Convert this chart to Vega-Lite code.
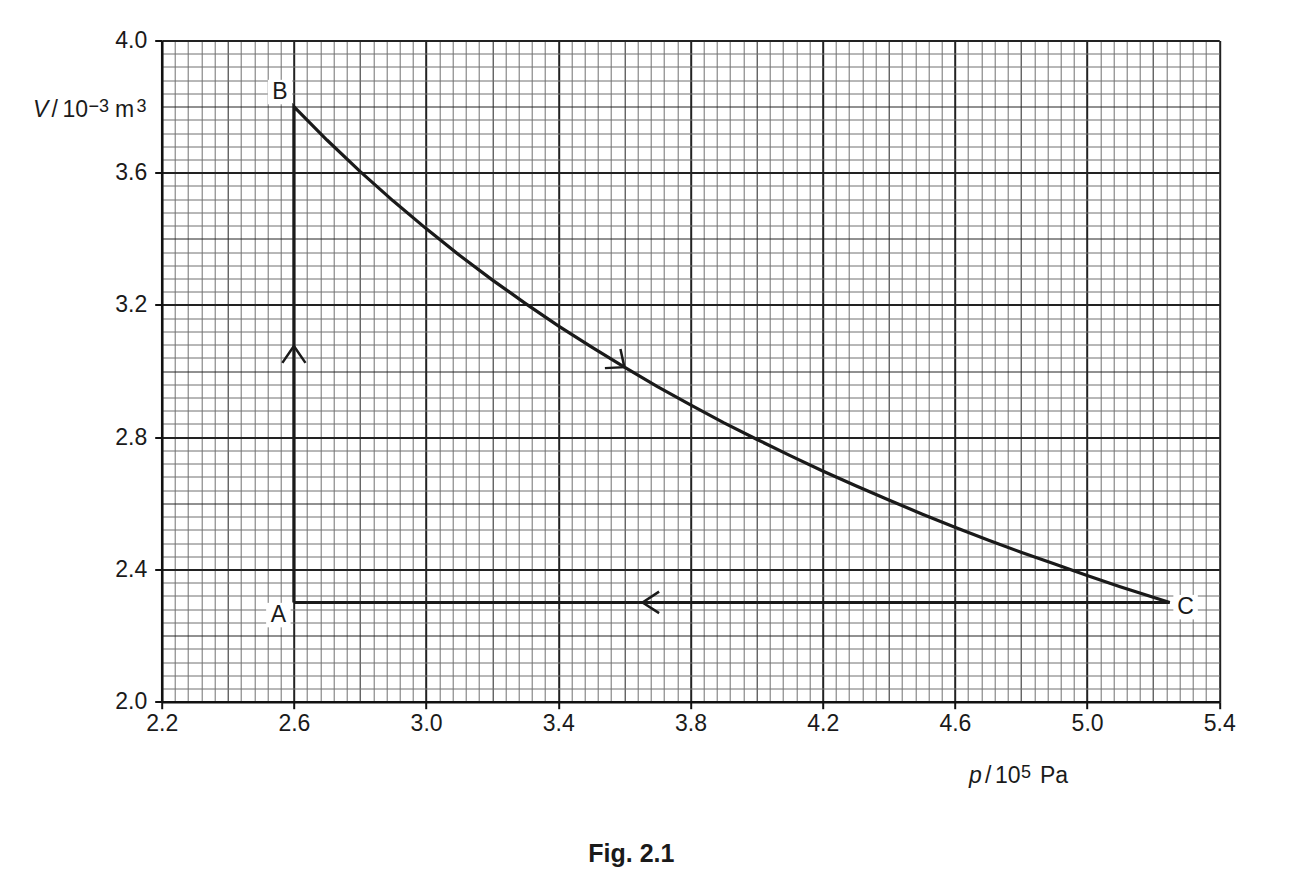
{
  "$schema": "https://vega.github.io/schema/vega-lite/v6.json",
  "width": 1057.6,
  "height": 661.2,
  "autosize": {"type": "none"},
  "padding": {"left": 161.7, "top": 40.5, "right": 76.7, "bottom": 178.3},
  "background": "white",
  "config": {"view": {"stroke": null}},
  "datasets": {
    "cycle": [
      {"o": 0, "p": 2.6, "V": 2.3},
      {"o": 1, "p": 2.6, "V": 3.8},
      {"o": 2, "p": 2.7, "V": 3.699},
      {"o": 3, "p": 2.8, "V": 3.604},
      {"o": 4, "p": 2.9, "V": 3.515},
      {"o": 5, "p": 3.0, "V": 3.431},
      {"o": 6, "p": 3.1, "V": 3.351},
      {"o": 7, "p": 3.2, "V": 3.276},
      {"o": 8, "p": 3.3, "V": 3.205},
      {"o": 9, "p": 3.4, "V": 3.137},
      {"o": 10, "p": 3.5, "V": 3.073},
      {"o": 11, "p": 3.6, "V": 3.012},
      {"o": 12, "p": 3.7, "V": 2.953},
      {"o": 13, "p": 3.8, "V": 2.898},
      {"o": 14, "p": 3.9, "V": 2.844},
      {"o": 15, "p": 4.0, "V": 2.794},
      {"o": 16, "p": 4.1, "V": 2.745},
      {"o": 17, "p": 4.2, "V": 2.698},
      {"o": 18, "p": 4.3, "V": 2.653},
      {"o": 19, "p": 4.4, "V": 2.61},
      {"o": 20, "p": 4.5, "V": 2.568},
      {"o": 21, "p": 4.6, "V": 2.528},
      {"o": 22, "p": 4.7, "V": 2.489},
      {"o": 23, "p": 4.8, "V": 2.452},
      {"o": 24, "p": 4.9, "V": 2.417},
      {"o": 25, "p": 5.0, "V": 2.382},
      {"o": 26, "p": 5.1, "V": 2.348},
      {"o": 27, "p": 5.25, "V": 2.3},
      {"o": 28, "p": 2.6, "V": 2.3}
    ],
    "arrows": [
      {"a": 1, "k": 0, "p": 2.565, "V": 3.025},
      {"a": 1, "k": 1, "p": 2.6, "V": 3.076},
      {"a": 1, "k": 2, "p": 2.635, "V": 3.025},
      {"a": 2, "k": 0, "p": 3.541, "V": 3.009},
      {"a": 2, "k": 1, "p": 3.6, "V": 3.012},
      {"a": 2, "k": 2, "p": 3.588, "V": 3.067},
      {"a": 3, "k": 0, "p": 3.705, "V": 2.333},
      {"a": 3, "k": 1, "p": 3.655, "V": 2.3},
      {"a": 3, "k": 2, "p": 3.705, "V": 2.268}
    ],
    "labels": [
      {"label": "A", "p": 2.553, "V": 2.262},
      {"label": "B", "p": 2.558, "V": 3.844},
      {"label": "C", "p": 5.298, "V": 2.286}
    ]
  },
  "layer": [
    {
      "data": {"name": "labels"},
      "mark": {"type": "point", "shape": "square", "filled": true, "color": "white", "opacity": 1, "size": 600, "strokeWidth": 0},
      "encoding": {
        "x": {
          "field": "p",
          "type": "quantitative",
          "scale": {"domain": [2.2, 5.4], "nice": false, "zero": false},
          "axis": {
            "title": null,
            "tickCount": 500,
            "values": [2.2,2.24,2.28,2.32,2.36,2.4,2.44,2.48,2.52,2.56,2.6,2.64,2.68,2.72,2.76,2.8,2.84,2.88,2.92,2.96,3.0,3.04,3.08,3.12,3.16,3.2,3.24,3.28,3.32,3.36,3.4,3.44,3.48,3.52,3.56,3.6,3.64,3.68,3.72,3.76,3.8,3.84,3.88,3.92,3.96,4.0,4.04,4.08,4.12,4.16,4.2,4.24,4.28,4.32,4.36,4.4,4.44,4.48,4.52,4.56,4.6,4.64,4.68,4.72,4.76,4.8,4.84,4.88,4.92,4.96,5.0,5.04,5.08,5.12,5.16,5.2,5.24,5.28,5.32,5.36,5.4],
            "grid": true,
            "gridOpacity": 1,
            "gridColor": {"condition": {"test": "round((datum.value-2.2)/0.04)%5==0", "value": "#222222"}, "value": "#707070"},
            "gridWidth": {"condition": {"test": "round((datum.value-2.2)/0.04)%10==0", "value": 2}, "value": 1},
            "tickOpacity": {"condition": {"test": "round((datum.value-2.2)/0.04)%10==0", "value": 1}, "value": 0},
            "tickColor": "#111111",
            "tickWidth": 2,
            "tickSize": 7,
            "labelExpr": "round((datum.value-2.2)/0.04)%10==0 ? format(datum.value,'.1f') : ''",
            "labelFont": "Liberation Sans",
            "labelFontSize": 23,
            "labelColor": "#1a1a1a",
            "labelPadding": 4,
            "labelOverlap": false,
            "labelFlush": false,
            "labelBound": false,
            "domainColor": "#111111",
            "domainWidth": 2.5
          }
        },
        "y": {
          "field": "V",
          "type": "quantitative",
          "scale": {"domain": [2.0, 4.0], "nice": false, "zero": false},
          "axis": {
            "title": null,
            "tickCount": 500,
            "values": [2.0,2.04,2.08,2.12,2.16,2.2,2.24,2.28,2.32,2.36,2.4,2.44,2.48,2.52,2.56,2.6,2.64,2.68,2.72,2.76,2.8,2.84,2.88,2.92,2.96,3.0,3.04,3.08,3.12,3.16,3.2,3.24,3.28,3.32,3.36,3.4,3.44,3.48,3.52,3.56,3.6,3.64,3.68,3.72,3.76,3.8,3.84,3.88,3.92,3.96,4.0],
            "grid": true,
            "gridOpacity": 1,
            "gridColor": {"condition": {"test": "round((datum.value-2.0)/0.04)%5==0", "value": "#222222"}, "value": "#707070"},
            "gridWidth": {"condition": {"test": "round((datum.value-2.0)/0.04)%10==0", "value": 2}, "value": 1},
            "tickOpacity": {"condition": {"test": "round((datum.value-2.0)/0.04)%10==0", "value": 1}, "value": 0},
            "tickColor": "#111111",
            "tickWidth": 2,
            "tickSize": 7,
            "labelExpr": "round((datum.value-2.0)/0.04)%10==0 ? format(datum.value,'.1f') : ''",
            "labelFont": "Liberation Sans",
            "labelFontSize": 23,
            "labelColor": "#1a1a1a",
            "labelPadding": 8,
            "labelOverlap": false,
            "labelFlush": false,
            "labelBound": false,
            "domainColor": "#111111",
            "domainWidth": 2.5
          }
        }
      }
    },
    {
      "data": {"name": "cycle"},
      "mark": {"type": "line", "color": "#1a1a1a", "strokeWidth": 3.2, "strokeJoin": "miter"},
      "encoding": {
        "x": {"field": "p", "type": "quantitative"},
        "y": {"field": "V", "type": "quantitative"},
        "order": {"field": "o", "type": "quantitative"}
      }
    },
    {
      "data": {"name": "arrows"},
      "mark": {"type": "line", "color": "#1a1a1a", "strokeWidth": 2.5, "strokeJoin": "miter"},
      "encoding": {
        "x": {"field": "p", "type": "quantitative"},
        "y": {"field": "V", "type": "quantitative"},
        "detail": {"field": "a", "type": "nominal"},
        "order": {"field": "k", "type": "quantitative"}
      }
    },
    {
      "data": {"name": "labels"},
      "mark": {"type": "text", "align": "center", "baseline": "middle", "font": "Liberation Sans", "fontSize": 23, "color": "#1a1a1a"},
      "encoding": {
        "x": {"field": "p", "type": "quantitative"},
        "y": {"field": "V", "type": "quantitative"},
        "text": {"field": "label"}
      }
    },
    {
      "data": {"values": [{"t": "V"}]},
      "mark": {"type": "text", "align": "left", "baseline": "alphabetic", "dx": -128.7, "dy": 10.1, "font": "Liberation Sans", "fontSize": 23, "fontStyle": "italic", "color": "#1a1a1a"},
      "encoding": {"x": {"datum": 2.2}, "y": {"datum": 3.8}, "text": {"field": "t"}}
    },
    {
      "data": {"values": [{"t": "/"}]},
      "mark": {"type": "text", "align": "left", "baseline": "alphabetic", "dx": -110.2, "dy": 10.1, "font": "Liberation Sans", "fontSize": 23, "color": "#1a1a1a"},
      "encoding": {"x": {"datum": 2.2}, "y": {"datum": 3.8}, "text": {"field": "t"}}
    },
    {
      "data": {"values": [{"t": "10"}]},
      "mark": {"type": "text", "align": "left", "baseline": "alphabetic", "dx": -99.2, "dy": 10.1, "font": "Liberation Sans", "fontSize": 23, "color": "#1a1a1a"},
      "encoding": {"x": {"datum": 2.2}, "y": {"datum": 3.8}, "text": {"field": "t"}}
    },
    {
      "data": {"values": [{"t": "−3"}]},
      "mark": {"type": "text", "align": "left", "baseline": "alphabetic", "dx": -73.2, "dy": 5.1, "font": "Liberation Sans", "fontSize": 18, "color": "#1a1a1a"},
      "encoding": {"x": {"datum": 2.2}, "y": {"datum": 3.8}, "text": {"field": "t"}}
    },
    {
      "data": {"values": [{"t": "m"}]},
      "mark": {"type": "text", "align": "left", "baseline": "alphabetic", "dx": -46.7, "dy": 10.1, "font": "Liberation Sans", "fontSize": 23, "color": "#1a1a1a"},
      "encoding": {"x": {"datum": 2.2}, "y": {"datum": 3.8}, "text": {"field": "t"}}
    },
    {
      "data": {"values": [{"t": "3"}]},
      "mark": {"type": "text", "align": "left", "baseline": "alphabetic", "dx": -25.2, "dy": 5.1, "font": "Liberation Sans", "fontSize": 18, "color": "#1a1a1a"},
      "encoding": {"x": {"datum": 2.2}, "y": {"datum": 3.8}, "text": {"field": "t"}}
    },
    {
      "data": {"values": [{"t": "p"}]},
      "mark": {"type": "text", "align": "left", "baseline": "alphabetic", "dx": -52, "dy": 81.6, "font": "Liberation Sans", "fontSize": 23, "fontStyle": "italic", "color": "#1a1a1a"},
      "encoding": {"x": {"datum": 4.8}, "y": {"datum": 2.0}, "text": {"field": "t"}}
    },
    {
      "data": {"values": [{"t": "/"}]},
      "mark": {"type": "text", "align": "left", "baseline": "alphabetic", "dx": -36, "dy": 81.6, "font": "Liberation Sans", "fontSize": 23, "color": "#1a1a1a"},
      "encoding": {"x": {"datum": 4.8}, "y": {"datum": 2.0}, "text": {"field": "t"}}
    },
    {
      "data": {"values": [{"t": "10"}]},
      "mark": {"type": "text", "align": "left", "baseline": "alphabetic", "dx": -26, "dy": 81.6, "font": "Liberation Sans", "fontSize": 23, "color": "#1a1a1a"},
      "encoding": {"x": {"datum": 4.8}, "y": {"datum": 2.0}, "text": {"field": "t"}}
    },
    {
      "data": {"values": [{"t": "5"}]},
      "mark": {"type": "text", "align": "left", "baseline": "alphabetic", "dx": 0, "dy": 76, "font": "Liberation Sans", "fontSize": 18, "color": "#1a1a1a"},
      "encoding": {"x": {"datum": 4.8}, "y": {"datum": 2.0}, "text": {"field": "t"}}
    },
    {
      "data": {"values": [{"t": "Pa"}]},
      "mark": {"type": "text", "align": "left", "baseline": "alphabetic", "dx": 19, "dy": 81.6, "font": "Liberation Sans", "fontSize": 23, "color": "#1a1a1a"},
      "encoding": {"x": {"datum": 4.8}, "y": {"datum": 2.0}, "text": {"field": "t"}}
    },
    {
      "data": {"values": [{"t": "Fig. 2.1"}]},
      "mark": {"type": "text", "align": "center", "baseline": "alphabetic", "dx": 7, "dy": 160, "font": "Liberation Sans", "fontSize": 25, "fontWeight": "bold", "color": "#1a1a1a"},
      "encoding": {"x": {"datum": 3.6}, "y": {"datum": 2.0}, "text": {"field": "t"}}
    }
  ]
}
